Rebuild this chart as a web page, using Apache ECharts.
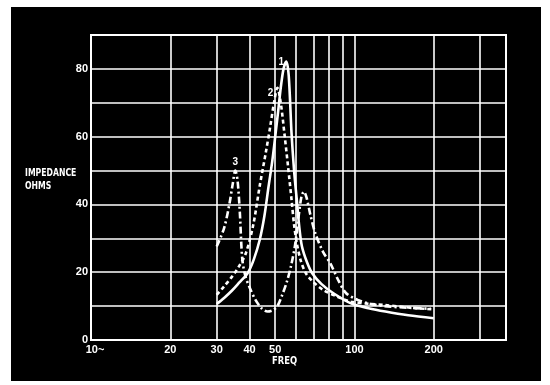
<!DOCTYPE html>
<html>
<head>
<meta charset="utf-8">
<script src="https://cdn.jsdelivr.net/npm/echarts@6/dist/echarts.min.js"></script>
<style>
html,body{margin:0;padding:0;background:#fff;width:550px;height:385px;overflow:hidden;}
#chart{position:absolute;left:11px;top:7px;width:530px;height:374px;background:#000;}
</style>
</head>
<body>
<div id="chart"></div>
<script>
// ---- data ----
const freq1 = [30, 32, 34.3, 36.5, 39.3, 41.5, 43.7, 45.5, 47.2, 48.8, 50.2, 51.5, 52.6, 53.8, 55.1, 56.3, 57.7, 59, 60.4, 61.8, 63.2, 66, 69.1, 75, 83.2, 97, 113, 131, 160, 200];
const imp1  = [10.6, 12.4, 14.6, 16.9, 19.7, 23.8, 29.6, 36.5, 45.3, 53, 61, 68.5, 74.9, 80, 82.2, 78, 61, 50, 41.4, 33, 27.6, 23, 19.7, 16.5, 13.8, 10.8, 9.4, 8.4, 7.3, 6.4];

const freq2 = [30, 32, 34.3, 36.5, 38.7, 41.3, 43.7, 46, 47.9, 49.5, 51, 52.5, 54.2, 56, 57.7, 59, 60.4, 62.5, 65.4, 70, 76, 86, 97, 113, 131, 160, 200];
const imp2  = [13.3, 15.8, 18.7, 21.8, 25.6, 34, 45.5, 55, 63, 70, 74.4, 70, 61, 51, 41.4, 34, 28.6, 23.5, 19.7, 17, 14.8, 12.8, 11.3, 10.7, 10.3, 9.6, 9];

const freq3 = [30, 32, 33.5, 34.5, 35.3, 36, 36.7, 37.5, 38.5, 40, 42, 44.5, 46.8, 49, 51, 53, 55.3, 57.5, 59.5, 61.5, 63, 64.3, 65.8, 68, 71, 76, 81, 87, 93, 103, 113, 130, 153, 195];
const imp3  = [27.6, 33, 40, 46, 50, 47, 38, 24, 19, 15.5, 12, 9.3, 8.4, 8.8, 10, 13, 17, 22, 28, 37, 42.5, 43.8, 42, 37, 31.5, 26, 22.6, 17.5, 13.8, 11.8, 10.8, 10, 9.6, 9.2];

const curveNames = ['1', '2', '3'];
const peakIndex = [14, 10, 4];

const xGridValues = [20, 30, 40, 50, 60, 70, 80, 90, 100, 200, 300];
const xTickValues = [10, 20, 30, 40, 50, 100, 200];
const xTickLabels = ['10~', '20', '30', '40', '50', '100', '200'];
const yTickValues = [0, 20, 40, 60, 80];
const yTickLabels = ['0', '20', '40', '60', '80'];

const yAxisTitle = 'IMPEDANCE\nOHMS';
const xAxisTitle = 'FREQ';

// ---- chart ----
const chart = echarts.init(document.getElementById('chart'), null, {renderer: 'canvas'});
const pairs = (f, v) => f.map((x, i) => [x, v[i]]);
const FONT = "'Liberation Sans', 'DejaVu Sans', sans-serif";
const NARROW = "'DejaVu Sans Condensed', 'Liberation Sans', sans-serif";

const gridData = xGridValues.concat([10]).map(v => {
  const k = xTickValues.indexOf(v);
  const item = {xAxis: v};
  if (k >= 0) {
    item.label = {show: true, formatter: xTickLabels[k]};
    if (v === 10) item.label.offset = [4, 0];
  } else {
    item.label = {show: false};
  }
  return item;
});

const lineCommon = {
  type: 'line', showSymbol: false, symbol: 'none', smooth: 0.3,
  silent: true, animation: false, z: 5
};

const datasets = [pairs(freq1, imp1), pairs(freq2, imp2), pairs(freq3, imp3)];
const labelOffsets = [[-5, 1], [-7, 5], [0, -8]];
const styles = [
  {color: '#fff', width: 2.6, type: 'solid'},
  {color: '#fff', width: 2.6, type: [4, 3]},
  {color: '#fff', width: 2.6, type: [7, 3, 2, 3]}
];

const series = datasets.map((d, i) => Object.assign({}, lineCommon, {
  name: curveNames[i],
  data: d,
  lineStyle: styles[i],
  markPoint: {
    symbol: 'circle', symbolSize: 0, silent: true, animation: false,
    label: {show: true, color: '#fff', fontFamily: FONT, fontWeight: 'bold', fontSize: 10,
            formatter: curveNames[i], offset: labelOffsets[i]},
    data: [{coord: d[peakIndex[i]]}]
  }
}));

series.push({
  type: 'line', data: [], silent: true, animation: false, z: 1,
  markLine: {
    symbol: ['none', 'none'], silent: true, animation: false,
    lineStyle: {color: '#fff', width: 1.6, type: 'solid'},
    label: {position: 'start', distance: 4, color: '#fff', fontFamily: FONT, fontWeight: 'bold', fontSize: 11},
    data: gridData
  }
});

chart.setOption({
  backgroundColor: '#000',
  animation: false,
  grid: {left: 80, top: 28, right: 35, bottom: 41, show: true, borderColor: '#fff', borderWidth: 2, backgroundColor: 'transparent'},
  xAxis: {
    type: 'log', logBase: 10, min: 10, max: 376,
    axisLine: {show: true, lineStyle: {color: '#fff', width: 2}},
    axisTick: {show: false}, axisLabel: {show: false}, splitLine: {show: false}
  },
  yAxis: {
    type: 'value', min: 0, max: 90, interval: 10,
    axisLine: {show: true, lineStyle: {color: '#fff', width: 2}},
    axisTick: {show: false},
    splitLine: {show: true, lineStyle: {color: '#fff', width: 1.6}},
    axisLabel: {
      color: '#fff', fontFamily: FONT, fontWeight: 'bold', fontSize: 11, margin: 3,
      formatter: v => { const k = yTickValues.indexOf(v); return k >= 0 ? yTickLabels[k] : ''; }
    }
  },
  graphic: [
    {type: 'text', x: 14, y: 160, scaleX: 0.86, silent: true,
     style: {text: yAxisTitle, fill: '#fff', font: "bold 10px " + NARROW, lineHeight: 13}},
    {type: 'text', x: 261, y: 349, scaleX: 0.85, silent: true,
     style: {text: xAxisTitle, fill: '#fff', font: "bold 11px " + NARROW}}
  ],
  series: series
});
</script>
</body>
</html>
